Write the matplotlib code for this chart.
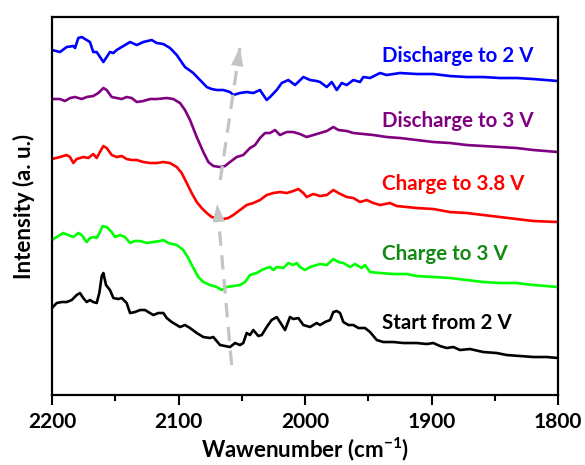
import matplotlib
matplotlib.use("Agg")
import matplotlib.pyplot as plt
from matplotlib.ticker import MultipleLocator

plt.rcParams['font.family'] = ['Lato', 'DejaVu Sans']
plt.rcParams['font.weight'] = 'bold'
plt.rcParams['mathtext.fontset'] = 'custom'
plt.rcParams['mathtext.rm'] = 'Lato:bold'
plt.rcParams['mathtext.bf'] = 'Lato:bold'

# ---- spectra (wavenumber in cm^-1, offset intensity in a.u.) ----
wn_dis2 = [2200, 2193.7, 2188.4, 2183.1, 2181.8, 2179.2, 2176.5, 2172.6, 2170.0, 2167.4,
           2164.7, 2159.4, 2156.8, 2154.2, 2151.5, 2148.9, 2143.6, 2138.3, 2133.0, 2127.8,
           2121.2, 2117.2, 2112.0, 2106.7, 2101.4, 2094.9, 2088.3, 2083.0, 2077.7, 2073.8,
           2069.8, 2064.6, 2059.3, 2056.7, 2051.4, 2046.1, 2040.9, 2035.6, 2030.3, 2027.7,
           2022.4, 2018.4, 2013.2, 2007.9, 2001.3, 1996.0, 1990.8, 1988.1, 1982.8, 1978.9,
           1974.9, 1971.0, 1967.0, 1961.8, 1956.5, 1953.9, 1948.6, 1940.7, 1935.4, 1924.9,
           1911.7, 1898.6, 1885.4, 1872.2, 1859.1, 1845.9, 1832.7, 1819.5, 1800]
int_dis2 = [345, 343, 348, 349, 347, 357, 358, 355, 353, 343,
            343, 333, 338, 343, 342, 345, 349, 353, 350, 353,
            355, 352, 351, 347, 340, 328, 322, 315, 308, 306,
            305, 305, 303, 300, 302, 303, 302, 305, 295, 298,
            305, 312, 315, 310, 318, 315, 314, 313, 308, 313,
            305, 312, 310, 315, 313, 318, 317, 322, 320, 322,
            321, 321, 319, 318, 318, 317, 317, 316, 314]

wn_dis3 = [2200, 2193.7, 2189.7, 2185.8, 2181.8, 2176.5, 2172.6, 2167.4, 2163.4, 2159.4,
           2156.8, 2152.8, 2148.9, 2144.9, 2141.0, 2137.0, 2133.0, 2127.8, 2122.5, 2117.2,
           2109.3, 2104.1, 2098.8, 2094.9, 2090.9, 2085.6, 2080.4, 2076.4, 2072.5, 2067.2,
           2063.2, 2059.3, 2054.0, 2048.8, 2043.5, 2039.5, 2035.6, 2031.6, 2027.7, 2023.7,
           2019.8, 2014.5, 2009.3, 2004.0, 1998.7, 1993.4, 1988.1, 1982.8, 1977.6, 1973.6,
           1967.0, 1961.8, 1953.9, 1946.0, 1935.4, 1924.9, 1911.7, 1898.6, 1885.4, 1872.2,
           1859.1, 1845.9, 1832.7, 1819.5, 1800]
int_dis3 = [296, 296, 294, 297, 298, 296, 298, 299, 302, 307,
            305, 298, 297, 296, 298, 297, 293, 294, 296, 296,
            297, 296, 292, 285, 275, 258, 243, 233, 229, 228,
            229, 233, 238, 240, 247, 250, 257, 262, 262, 265,
            260, 263, 263, 261, 258, 260, 262, 264, 268, 265,
            264, 262, 261, 260, 258, 257, 255, 253, 252, 250,
            249, 248, 247, 245, 243]

wn_ch38 = [2200, 2193.7, 2188.4, 2185.8, 2183.1, 2180.5, 2175.3, 2171.3, 2167.4, 2164.7,
           2162.1, 2159.4, 2156.8, 2152.8, 2148.9, 2144.9, 2141.0, 2137.0, 2133.0, 2127.8,
           2122.5, 2117.2, 2112.0, 2106.7, 2101.4, 2097.5, 2093.5, 2089.6, 2085.6, 2081.7,
           2077.7, 2073.8, 2069.8, 2064.6, 2060.6, 2056.7, 2051.4, 2046.1, 2040.9, 2035.6,
           2030.3, 2025.0, 2019.8, 2014.5, 2009.3, 2005.3, 2001.3, 1998.7, 1993.4, 1988.1,
           1982.8, 1977.6, 1973.6, 1967.0, 1961.8, 1956.5, 1951.2, 1946.0, 1940.7, 1932.8,
           1927.5, 1919.6, 1911.7, 1898.6, 1885.4, 1872.2, 1859.1, 1845.9, 1832.7, 1819.5,
           1800]
int_ch38 = [236, 238, 240, 238, 232, 236, 238, 237, 241, 237,
            243, 249, 247, 240, 238, 239, 236, 235, 235, 233,
            232, 232, 233, 232, 228, 222, 212, 202, 193, 187,
            182, 178, 177, 176, 177, 180, 185, 190, 192, 195,
            200, 202, 203, 202, 204, 206, 202, 198, 201, 199,
            200, 205, 202, 198, 197, 193, 195, 192, 190, 192,
            189, 188, 187, 186, 183, 182, 180, 178, 176, 174,
            173]

wn_ch3 = [2200, 2196.3, 2191.1, 2187.1, 2183.1, 2179.2, 2176.5, 2172.6, 2170.0, 2167.4,
          2164.7, 2162.1, 2160.0, 2156.8, 2152.8, 2150.2, 2146.2, 2142.3, 2138.3, 2134.4,
          2130.4, 2125.1, 2119.9, 2114.6, 2112.0, 2108.1, 2101.4, 2096.2, 2092.3, 2088.3,
          2084.3, 2080.4, 2075.1, 2069.8, 2065.9, 2061.9, 2056.7, 2051.4, 2047.4, 2043.5,
          2038.2, 2034.2, 2030.3, 2027.7, 2025.0, 2022.4, 2017.2, 2013.2, 2009.3, 2006.6,
          2004.0, 2000.0, 1996.0, 1990.8, 1988.1, 1982.8, 1977.6, 1973.6, 1969.7, 1964.4,
          1960.5, 1955.2, 1952.6, 1948.6, 1940.7, 1930.2, 1919.6, 1911.7, 1898.6, 1885.4,
          1872.2, 1859.1, 1845.9, 1832.7, 1819.5, 1800]
int_ch3 = [155, 158, 162, 160, 158, 162, 160, 153, 157, 158,
           157, 163, 169, 168, 163, 158, 160, 158, 152, 154,
           154, 152, 153, 154, 155, 152, 150, 145, 137, 127,
           118, 113, 110, 108, 105, 108, 109, 110, 113, 120,
           122, 125, 127, 128, 125, 128, 127, 132, 130, 132,
           128, 125, 128, 130, 131, 130, 136, 133, 132, 128,
           131, 127, 130, 123, 122, 121, 121, 119, 118, 117,
           115, 113, 112, 112, 110, 108]

wn_start = [2200, 2196.3, 2192.3, 2188.4, 2184.4, 2180.5, 2177.9, 2175.3, 2172.6, 2170.0,
            2167.4, 2164.7, 2162.6, 2160.7, 2159.4, 2157.3, 2154.2, 2151.5, 2147.6, 2144.9,
            2141.0, 2138.3, 2134.4, 2130.4, 2126.5, 2123.9, 2119.9, 2116.0, 2112.0, 2109.3,
            2105.4, 2101.4, 2098.8, 2094.9, 2090.9, 2085.6, 2080.4, 2075.1, 2072.5, 2067.2,
            2063.2, 2059.3, 2055.3, 2051.4, 2048.8, 2046.1, 2043.5, 2040.9, 2036.9, 2034.2,
            2030.3, 2026.4, 2022.4, 2019.8, 2015.8, 2011.9, 2009.3, 2005.3, 2001.3, 1996.0,
            1990.8, 1988.1, 1984.2, 1980.2, 1977.6, 1974.9, 1972.3, 1969.7, 1965.7, 1961.8,
            1957.8, 1952.6, 1948.6, 1943.3, 1938.1, 1930.2, 1922.3, 1911.7, 1903.8, 1898.6,
            1893.3, 1888.0, 1882.8, 1877.5, 1869.6, 1859.1, 1848.5, 1840.6, 1830.0, 1819.5,
            1809.0, 1800]
int_start = [87, 92, 93, 93, 95, 100, 102, 97, 93, 95,
             93, 92, 102, 119, 122, 110, 105, 97, 96, 97,
             92, 82, 83, 85, 85, 83, 80, 82, 82, 77,
             73, 70, 68, 70, 67, 62, 58, 57, 58, 50,
             49, 48, 52, 50, 52, 62, 60, 65, 59, 60,
             68, 75, 78, 73, 65, 78, 76, 77, 70, 68,
             72, 70, 73, 75, 83, 84, 82, 73, 70, 70,
             67, 67, 63, 55, 53, 53, 52, 52, 51, 52,
             49, 47, 48, 45, 46, 43, 42, 40, 39, 38,
             38, 37]

labels = ["Discharge to 2 V", "Discharge to 3 V", "Charge to 3.8 V",
          "Charge to 3 V", "Start from 2 V"]
label_y = [339, 274, 211, 141, 72]
line_colors = ["#0000ff", "#800080", "#ff0000", "#00ff00", "#000000"]
text_colors = ["#0000ff", "#800080", "#ff0000", "#138a13", "#000000"]

series = [(wn_dis2, int_dis2), (wn_dis3, int_dis3), (wn_ch38, int_ch38),
          (wn_ch3, int_ch3), (wn_start, int_start)]

fig = plt.figure(figsize=(5.85, 4.65), dpi=100)
ax = fig.add_axes([0.0889, 0.1505, 0.8650, 0.8129])

for (x, y), c in zip(series, line_colors):
    ax.plot(x, y, color=c, lw=1.9, solid_joinstyle='round')

for txt, yy, c in zip(labels, label_y, text_colors):
    ax.text(1939.5, yy, txt, color=c, fontsize=14.8, fontweight='bold',
            ha='left', va='center')

# dashed guide arrows tracking the band shift
arrow_col = '#c4c4c4'


def dashed_arrow(x0, y0, x1, y1):
    ax.plot([x0, x1], [y0, y1], color=arrow_col, lw=2.3,
            dashes=(4.5, 3), solid_capstyle='butt', zorder=3)
    fx = x0 + (x1 - x0) * 0.92
    fy = y0 + (y1 - y0) * 0.92
    ax.annotate('', xy=(x1, y1), xytext=(fx, fy),
                arrowprops=dict(arrowstyle='-|>,head_length=1.3,head_width=0.45',
                                color=arrow_col, lw=0, shrinkA=0, shrinkB=0),
                zorder=4)


dashed_arrow(2058, 30, 2069.5, 191)
dashed_arrow(2067, 215, 2051.5, 347)

ax.set_xlim(2200, 1800)
ax.set_ylim(0, 378)
ax.xaxis.set_major_locator(MultipleLocator(100))
ax.xaxis.set_minor_locator(MultipleLocator(50))
ax.set_yticks([])
ax.tick_params(axis='x', which='major', direction='out', length=7, width=1.5,
               labelsize=15, pad=5)
ax.tick_params(axis='x', which='minor', direction='out', length=4, width=1.5)
for lab in ax.get_xticklabels():
    lab.set_fontweight('bold')
for s in ax.spines.values():
    s.set_linewidth(1.6)

ax.set_xlabel(r"Wawenumber (cm$^{-1}$)", fontsize=16, fontweight='bold', labelpad=3)
ax.set_ylabel("Intensity (a. u.)", fontsize=16, fontweight='bold', labelpad=12)

fig.savefig("out.png", dpi=100)
